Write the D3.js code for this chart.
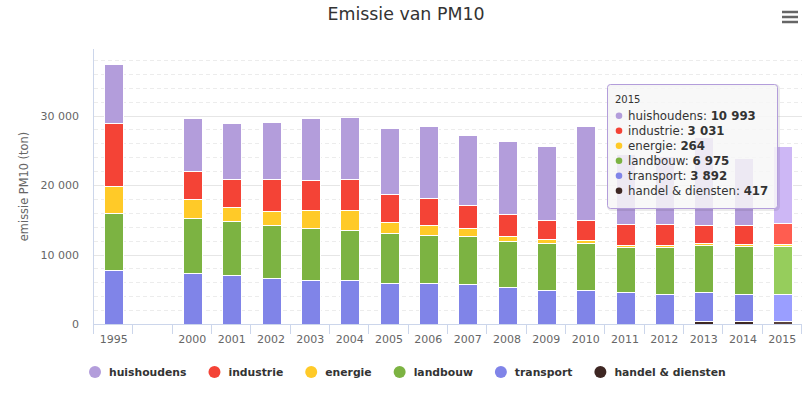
<!DOCTYPE html>
<html>
<head>
<meta charset="utf-8">
<script src="https://cdn.jsdelivr.net/npm/d3@7"></script>
<style>
  body { margin: 0; background: #fff; }
  svg { font-family: "DejaVu Sans", sans-serif; display: block; }
</style>
</head>
<body>
<div id="chart"></div>
<script>
(function() {

    // categories (one empty slot between 1995 and 2000)
    const years = ["1995", "", "2000", "2001", "2002", "2003", "2004", "2005", "2006",
        "2007", "2008", "2009", "2010", "2011", "2012", "2013", "2014", "2015"];

    const huishoudens = [8490, null, 7580, 8060, 8200, 8870, 8870, 9500, 10310,
        10120, 10550, 10650, 13480, 10110, 9810, 12700, 9680, 10993];
    const industrie = [9060, null, 3980, 3980, 4560, 4320, 4460, 3980, 3890,
        3310, 3170, 2780, 2880, 3070, 3070, 2590, 2730, 3031];
    const energie = [3900, null, 2780, 2060, 2060, 2590, 2880, 1580, 1440,
        1200, 720, 530, 430, 290, 290, 336, 336, 264];
    const landbouw = [8200, null, 7915, 7770, 7630, 7480, 7200, 7200, 6910,
        6860, 6620, 6760, 6760, 6480, 6670, 6760, 6910, 6975];
    const transport = [7770, null, 7340, 7050, 6620, 6330, 6330, 5900, 5900,
        5760, 5320, 4890, 4890, 4560, 4370, 4160, 3870, 3892];
    const handel = [null, null, null, null, null, null, null, null, null,
        null, null, null, null, null, null, 420, 400, 417];

    const yTicks = [0, 10000, 20000, 30000];

    // legend order (top of the stack first)
    const series = [
        {name: "huishoudens", values: huishoudens, color: "#b39ddb"},
        {name: "industrie", values: industrie, color: "#f44336"},
        {name: "energie", values: energie, color: "#ffca28"},
        {name: "landbouw", values: landbouw, color: "#7cb342"},
        {name: "transport", values: transport, color: "#8084e8"},
        {name: "handel & diensten", values: handel, color: "#3e2723"}
    ];

    const hoverYear = "2015";

    const width = 811;
    const height = 397;
    const plot = {left: 94, right: 802, top: 49, bottom: 324};

    const table = years.map((yr, i) => {
        const row = {year: yr};
        series.forEach(s => { row[s.name] = s.values[i] || 0; });
        return row;
    });

    const stackKeys = series.map(s => s.name).reverse();
    const stacked = d3.stack().keys(stackKeys)(table);

    const x = d3.scaleBand()
        .domain(years.map((d, i) => i))
        .range([plot.left, plot.right])
        .padding(0);

    const y = d3.scaleLinear()
        .domain([0, 39570])
        .range([plot.bottom, plot.top]);

    const fmt = v => d3.format(",")(v).replace(/,/g, " ");
    const brighten = c => {
        const r = d3.rgb(c);
        return d3.rgb(Math.min(255, r.r + 25.5), Math.min(255, r.g + 25.5), Math.min(255, r.b + 25.5)).toString();
    };

    const svg = d3.select("#chart").append("svg")
        .attr("width", width)
        .attr("height", height);

    // minor grid (dashed)
    svg.append("g")
        .selectAll("line")
        .data(d3.range(2000, 39570, 2000).filter(v => v % 10000 !== 0))
        .join("line")
        .attr("x1", plot.left)
        .attr("x2", plot.right)
        .attr("y1", d => Math.round(y(d)) + 0.5)
        .attr("y2", d => Math.round(y(d)) + 0.5)
        .attr("stroke", "#ececec")
        .attr("stroke-dasharray", "4,3");

    // major grid
    svg.append("g")
        .selectAll("line")
        .data(yTicks.slice(1))
        .join("line")
        .attr("x1", plot.left)
        .attr("x2", plot.right)
        .attr("y1", d => Math.round(y(d)) + 0.5)
        .attr("y2", d => Math.round(y(d)) + 0.5)
        .attr("stroke", "#e6e6e6");

    // y axis line
    svg.append("line")
        .attr("x1", plot.left - 0.5).attr("x2", plot.left - 0.5)
        .attr("y1", plot.top).attr("y2", plot.bottom)
        .attr("stroke", "#ccd6eb");

    // y tick labels
    svg.append("g")
        .selectAll("text")
        .data(yTicks)
        .join("text")
        .attr("x", 79)
        .attr("y", d => y(d) + 4)
        .attr("text-anchor", "end")
        .attr("font-size", "11px")
        .attr("fill", "#666")
        .text(d => fmt(d));

    // y axis title
    svg.append("text")
        .attr("transform", `translate(28,${(plot.top + plot.bottom) / 2}) rotate(-90)`)
        .attr("text-anchor", "middle")
        .attr("font-size", "11.4px")
        .attr("fill", "#666")
        .text("emissie PM10 (ton)");

    // bars
    svg.append("g")
        .selectAll("g")
        .data(stacked)
        .join("g")
        .each(function(layer) {
            const s = series.find(d => d.name === layer.key);
            d3.select(this).selectAll("rect")
                .data(layer.map((d, i) => ({d, i})).filter(p => p.d[1] - p.d[0] > 0))
                .join("rect")
                .attr("x", p => Math.round(x(p.i) + x.bandwidth() * 0.26) + 0.5)
                .attr("width", Math.round(x.bandwidth() * 0.48))
                .attr("y", p => Math.round(y(p.d[1])) + 0.5)
                .attr("height", p => Math.max(0, Math.round(y(p.d[0])) - Math.round(y(p.d[1]))))
                .attr("fill", p => years[p.i] === hoverYear ? brighten(s.color) : s.color)
                .attr("stroke", "#fff")
                .attr("stroke-width", 1);
        });

    // x axis
    svg.append("line")
        .attr("x1", plot.left).attr("x2", plot.right)
        .attr("y1", plot.bottom + 0.5).attr("y2", plot.bottom + 0.5)
        .attr("stroke", "#ccd6eb");

    svg.append("g")
        .selectAll("line")
        .data(d3.range(years.length + 1))
        .join("line")
        .attr("x1", i => Math.round(plot.left + i * x.bandwidth()) - 0.5)
        .attr("x2", i => Math.round(plot.left + i * x.bandwidth()) - 0.5)
        .attr("y1", plot.bottom)
        .attr("y2", plot.bottom + 10)
        .attr("stroke", "#ccd6eb");

    svg.append("g")
        .selectAll("text")
        .data(years)
        .join("text")
        .attr("x", (d, i) => x(i) + x.bandwidth() / 2)
        .attr("y", plot.bottom + 19)
        .attr("text-anchor", "middle")
        .attr("font-size", "11px")
        .attr("fill", "#666")
        .text(d => d);

    // title
    svg.append("text")
        .attr("x", 406)
        .attr("y", 20)
        .attr("text-anchor", "middle")
        .attr("font-size", "17.4px")
        .attr("fill", "#333")
        .text("Emissie van PM10");

    // menu icon
    svg.append("g")
        .selectAll("line")
        .data([12, 17, 22])
        .join("line")
        .attr("x1", 782).attr("x2", 798)
        .attr("y1", d => d).attr("y2", d => d)
        .attr("stroke", "#666")
        .attr("stroke-width", 2.5);

    // legend
    const legend = svg.append("g");
    let lx = 95;
    series.forEach(s => {
        legend.append("circle")
            .attr("cx", lx)
            .attr("cy", 372)
            .attr("r", 6)
            .attr("fill", s.color);
        const t = legend.append("text")
            .attr("x", lx + 14)
            .attr("y", 376)
            .attr("font-size", "10.8px")
            .attr("font-weight", "bold")
            .attr("fill", "#333")
            .text(s.name);
        lx = lx + 14 + t.node().getComputedTextLength() + 28;
    });

    // tooltip for hovered year
    const hi = years.indexOf(hoverYear);
    const tip = svg.append("g");
    tip.append("rect")
        .attr("x", 608.5).attr("y", 85.5)
        .attr("width", 170).attr("height", 124)
        .attr("rx", 3)
        .attr("fill", "none")
        .attr("stroke", "rgba(0,0,0,0.08)")
        .attr("stroke-width", 3);
    tip.append("rect")
        .attr("x", 607.5).attr("y", 84.5)
        .attr("width", 170).attr("height", 124)
        .attr("rx", 3)
        .attr("fill", "rgba(247,247,247,0.85)")
        .attr("stroke", series[0].color);
    tip.append("text")
        .attr("x", 615)
        .attr("y", 103)
        .attr("font-size", "10px")
        .attr("fill", "#333")
        .text(hoverYear);
    series.forEach((s, k) => {
        const cy = 115.7 + k * 15;
        tip.append("circle")
            .attr("cx", 619).attr("cy", cy).attr("r", 3.3)
            .attr("fill", s.color);
        const t = tip.append("text")
            .attr("x", 628)
            .attr("y", cy + 4)
            .attr("font-size", "11.8px")
            .attr("fill", "#333");
        t.append("tspan").text(s.name + ": ");
        t.append("tspan").attr("font-weight", "bold").text(fmt(s.values[hi]));
    });

})();
</script>
</body>
</html>
